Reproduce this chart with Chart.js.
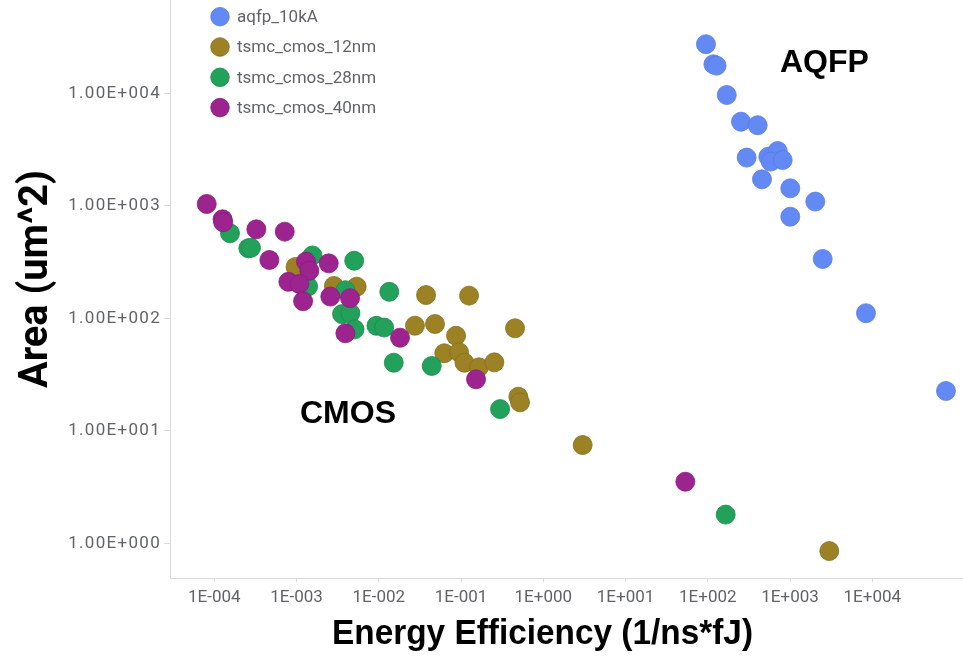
<!DOCTYPE html>
<html>
<head>
<meta charset="utf-8">
<script src="https://cdn.jsdelivr.net/npm/chart.js@4/dist/chart.umd.min.js"></script>
<style>
  html, body { margin: 0; padding: 0; background: #ffffff; }
  #wrap { width: 963px; height: 656px; position: relative; }
</style>
</head>
<body>
<div id="wrap"><canvas id="chart" width="963" height="656"></canvas></div>
<script>
// Series labels
const seriesNames = ['aqfp_10kA', 'tsmc_cmos_12nm', 'tsmc_cmos_28nm', 'tsmc_cmos_40nm'];

// Energy efficiency (1/ns*fJ) and area (um^2) for each design
const aqfpEnergy = [95, 117, 128, 170, 253, 404, 297, 544, 708, 582, 814, 456, 1007, 2028, 1007, 2495, 8380, 78700];
const aqfpArea   = [27300, 18100, 17600, 9660, 5590, 5200, 2680, 2730, 3070, 2470, 2550, 1720, 1430, 1090, 800, 337, 111, 22.6];

const cmos12Energy = [9.71e-4, 2.84e-3, 5.38e-3, 3.75e-2, 0.125, 2.75e-2, 4.82e-2, 8.69e-2, 6.25e-2, 9.44e-2, 0.110, 0.165, 0.254, 0.453, 0.497, 0.521, 3.01, 3000];
const cmos12Area   = [286, 194, 191, 161, 159, 86, 89, 70, 48.9, 49.9, 40.3, 36.7, 40.6, 81.5, 20.1, 17.9, 7.48, 0.854];

const cmos28Energy = [1.55e-4, 2.59e-4, 2.79e-4, 1.56e-3, 5.02e-3, 1.38e-3, 3.92e-3, 3.57e-3, 4.51e-3, 5.07e-3, 9.35e-3, 1.16e-2, 1.34e-2, 1.52e-2, 4.40e-2, 0.298, 165];
const cmos28Area   = [570, 419, 424, 362, 325, 192, 178, 109, 111, 79.8, 85.8, 82.8, 172, 40.3, 37.7, 15.6, 1.80];

const cmos40Energy = [8.08e-5, 1.26e-4, 1.28e-4, 3.24e-4, 7.18e-4, 4.67e-4, 1.30e-3, 1.43e-3, 2.46e-3, 7.94e-4, 1.08e-3, 1.20e-3, 2.57e-3, 4.47e-3, 3.92e-3, 1.81e-2, 0.152, 53.3];
const cmos40Area   = [1038, 759, 714, 618, 589, 330, 319, 265, 308, 211, 202, 142, 156, 151, 73.6, 67.3, 28.7, 3.53];

// Tick values
const xTickValues = [1e-4, 1e-3, 1e-2, 1e-1, 1e0, 1e1, 1e2, 1e3, 1e4];
const yTickValues = [1e0, 1e1, 1e2, 1e3, 1e4];

// Region labels inside the plot
const regionLabels = ['AQFP', 'CMOS'];

const fills   = ['#6389F5', '#9C8224', '#22A15B', '#9D238F'];
const borders = ['#5a7cde', '#85701f', '#1c8a4d', '#861e7a'];

function pts(xs, ys) { return xs.map((x, i) => ({ x: x, y: ys[i] })); }

function expLabel(v, mant) {
  const e = Math.round(Math.log10(v));
  return mant + 'E' + (e < 0 ? '-' : '+') + String(Math.abs(e)).padStart(3, '0');
}

const seriesPoints = [
  pts(aqfpEnergy, aqfpArea),
  pts(cmos12Energy, cmos12Area),
  pts(cmos28Energy, cmos28Area),
  pts(cmos40Energy, cmos40Area)
];
// later series are painted above earlier ones
const drawOrder = [3, 2, 1, 0];

const datasets = seriesNames.map((name, i) => ({
  label: name,
  data: seriesPoints[i],
  order: drawOrder[i],
  pointRadius: 9.5,
  pointHoverRadius: 9.5,
  backgroundColor: fills[i],
  borderColor: borders[i],
  borderWidth: 0.8,
  showLine: false
}));

const GREY = '#60646a';

function fitText(ctx, text, width) {
  const w = ctx.measureText(text).width;
  return width / w;
}

const overlay = {
  id: 'overlay',
  afterDraw(chart) {
    const ctx = chart.ctx;
    ctx.save();

    // legend
    ctx.font = '17px Roboto';
    ctx.textBaseline = 'middle';
    ctx.textAlign = 'left';
    seriesNames.forEach((name, i) => {
      const cy = 16.7 + 30.3 * i;
      ctx.beginPath();
      ctx.arc(220, cy, 9.3, 0, Math.PI * 2);
      ctx.fillStyle = fills[i];
      ctx.fill();
      ctx.lineWidth = 0.8;
      ctx.strokeStyle = borders[i];
      ctx.stroke();
      ctx.fillStyle = GREY;
      ctx.fillText(name, 237, cy + 1);
    });

    // region labels
    ctx.fillStyle = '#000000';
    ctx.textBaseline = 'alphabetic';
    ctx.font = 'bold 32px "Liberation Sans"';
    ctx.fillText(regionLabels[0], 780, 71.5);
    ctx.fillText(regionLabels[1], 300, 423);

    // x axis title
    const xTitle = 'Energy Efficiency (1/ns*fJ)';
    ctx.font = 'bold 35px "Liberation Sans"';
    let sx = fitText(ctx, xTitle, 421);
    ctx.save();
    ctx.translate(542.5, 644);
    ctx.scale(sx, 1);
    ctx.textAlign = 'center';
    ctx.fillText(xTitle, 0, 0);
    ctx.restore();

    // y axis title
    const yTitle = 'Area (um^2)';
    ctx.font = 'bold 41px Roboto';
    sx = fitText(ctx, yTitle, 218);
    ctx.save();
    ctx.translate(46.5, 279);
    ctx.rotate(-Math.PI / 2);
    ctx.scale(sx, 1);
    ctx.textAlign = 'center';
    ctx.fillText(yTitle, 0, 0);
    ctx.restore();

    ctx.restore();
  }
};

new Chart(document.getElementById('chart'), {
  type: 'scatter',
  data: { datasets: datasets },
  options: {
    responsive: false,
    animation: false,
    devicePixelRatio: 1,
    layout: { padding: 0, autoPadding: false },
    plugins: {
      legend: { display: false },
      title: { display: false },
      tooltip: { enabled: false }
    },
    scales: {
      x: {
        type: 'logarithmic',
        position: 'bottom',
        min: 2.89e-5,
        max: 1.268e5,
        afterBuildTicks: (s) => { s.ticks = xTickValues.map(v => ({ value: v })); },
        afterFit: (s) => {
          s.height = 78;
          s.paddingLeft = 0; s.paddingRight = 0; s.paddingTop = 0; s.paddingBottom = 0;
        },
        ticks: {
          callback: (v) => expLabel(v, '1'),
          font: { family: 'Roboto', size: 17 },
          color: GREY,
          padding: 6,
          maxRotation: 0,
          autoSkip: false
        },
        grid: { drawOnChartArea: false, drawTicks: true, tickLength: 4, color: '#dadada' },
        border: { display: true, color: '#dadada', width: 1 }
      },
      y: {
        type: 'logarithmic',
        position: 'left',
        min: 0.492,
        max: 67450,
        afterBuildTicks: (s) => { s.ticks = yTickValues.map(v => ({ value: v })); },
        afterFit: (s) => {
          s.width = 170;
          s.paddingLeft = 0; s.paddingRight = 0; s.paddingTop = 0; s.paddingBottom = 0;
          // the value labels on this axis are set slightly letter-spaced
          if (!s._spacedLabels) {
            s._spacedLabels = true;
            const baseDraw = s.drawLabels;
            s.drawLabels = function (area) {
              this.ctx.save();
              this.ctx.letterSpacing = '1.3px';
              baseDraw.call(this, area);
              this.ctx.restore();
            };
          }
        },
        ticks: {
          callback: (v) => expLabel(v, '1.00'),
          font: { family: 'Roboto', size: 17 },
          color: GREY,
          padding: 3,
          autoSkip: false
        },
        grid: { drawOnChartArea: false, drawTicks: true, tickLength: 6, color: '#dadada' },
        border: { display: true, color: '#dadada', width: 1 }
      }
    }
  },
  plugins: [overlay]
});
</script>
</body>
</html>
